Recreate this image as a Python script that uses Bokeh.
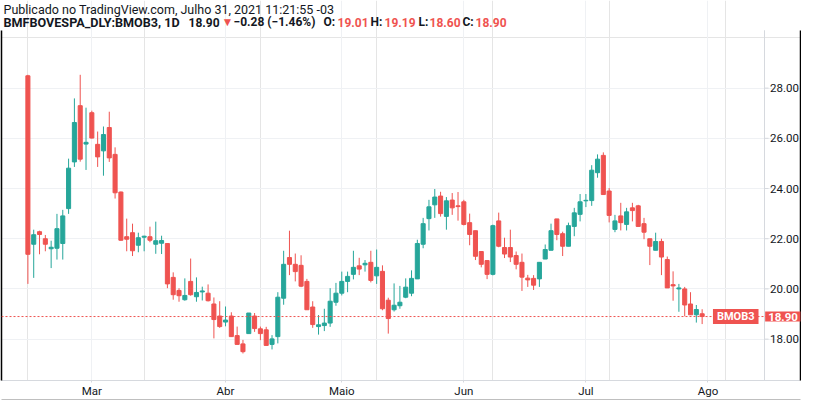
import pandas as pd
from bokeh.plotting import figure
from bokeh.models import (ColumnDataSource, LinearAxis, FixedTicker, Range1d, Span,
                          Label, Grid)
from bokeh.core.properties import value
from bokeh.embed import file_html
from bokeh.resources import INLINE

# ---- data -------------------------------------------------------------
holidays = ["2021-02-15", "2021-02-16", "2021-04-02", "2021-04-21", "2021-06-03", "2021-07-09"]
dates = [d for d in pd.bdate_range("2021-02-10", "2021-07-30") if d.strftime("%Y-%m-%d") not in holidays]

opens = [28.49, 21.78, 22.28, 22.00, 21.60, 21.62, 21.81, 23.20, 25.06, 27.30,
         25.77, 27.02, 25.76, 25.50, 26.43, 25.36, 23.86, 22.08, 22.24, 21.74,
         22.06, 22.08, 21.78, 21.82, 21.81, 20.46, 19.94, 19.57, 20.30, 19.69,
         19.88, 19.83, 19.40, 18.92, 18.68, 18.92, 18.14, 17.81, 18.22, 18.92,
         18.41, 18.37, 17.79, 18.10, 19.63, 21.25, 20.98, 20.94, 20.30, 19.28,
         18.50, 18.54, 18.64, 19.47, 19.83, 20.30, 20.58, 20.92, 20.96, 21.06,
         20.52, 20.70, 19.55, 19.17, 19.33, 19.67, 19.83, 20.40, 21.78, 22.80,
         23.35, 23.70, 22.89, 23.54, 23.31, 23.47, 22.64, 22.32, 21.49, 21.13,
         20.58, 22.71, 21.65, 21.65, 21.33, 21.06, 20.43, 20.42, 20.40, 21.19,
         21.54, 22.79, 22.20, 21.70, 22.49, 22.97, 23.51, 23.52, 24.63, 25.32,
         23.90, 22.37, 22.91, 22.57, 23.23, 23.31, 22.60, 22.00, 21.54, 21.89,
         21.17, 20.17, 20.00, 20.00, 19.40, 18.97, 19.01]
highs = [28.53, 22.36, 22.32, 22.15, 21.92, 22.99, 23.15, 25.19, 27.59, 28.53,
         27.22, 27.10, 26.27, 26.47, 27.06, 25.64, 23.88, 22.80, 22.60, 22.24,
         22.12, 22.48, 22.68, 22.12, 21.82, 20.66, 20.03, 20.42, 21.21, 20.46,
         20.09, 20.18, 19.66, 19.51, 19.30, 19.07, 18.50, 17.97, 19.04, 19.04,
         18.50, 18.49, 18.16, 19.87, 21.52, 22.32, 21.41, 21.34, 20.40, 19.51,
         18.96, 19.21, 20.03, 20.24, 20.69, 20.69, 21.52, 21.24, 21.15, 21.52,
         21.57, 20.94, 19.65, 20.22, 20.12, 20.42, 20.74, 21.96, 22.83, 23.55,
         23.98, 23.87, 23.66, 23.82, 23.86, 23.55, 23.00, 22.32, 21.49, 21.13,
         22.56, 23.04, 22.04, 22.36, 21.49, 21.41, 20.56, 20.55, 21.06, 21.77,
         22.60, 22.79, 22.28, 22.64, 23.23, 23.78, 23.78, 24.93, 25.36, 25.44,
         24.02, 22.95, 23.43, 23.23, 23.43, 23.35, 22.83, 22.00, 22.24, 22.00,
         21.29, 20.70, 20.20, 20.08, 19.87, 19.36, 19.19]
lows = [20.20, 20.44, 21.38, 21.50, 20.83, 21.17, 21.17, 22.99, 24.86, 25.07,
        24.74, 25.99, 24.86, 24.51, 25.06, 23.60, 21.92, 21.50, 21.31, 21.46,
        21.50, 21.86, 21.40, 21.39, 20.03, 19.57, 19.49, 19.53, 19.73, 19.49,
        19.54, 19.50, 18.03, 18.45, 18.51, 18.10, 17.79, 17.43, 18.22, 18.29,
        17.96, 17.75, 17.59, 17.83, 19.37, 20.55, 20.30, 20.07, 19.17, 18.45,
        18.18, 18.32, 18.49, 19.33, 19.74, 19.87, 20.38, 20.55, 20.69, 20.26,
        20.20, 19.15, 18.22, 19.10, 19.21, 19.63, 19.71, 20.40, 21.62, 22.33,
        22.83, 22.88, 22.36, 22.95, 22.72, 22.53, 21.74, 21.15, 20.86, 20.39,
        20.54, 21.66, 21.23, 21.07, 20.78, 19.92, 20.08, 19.96, 20.08, 21.19,
        21.54, 21.94, 21.31, 21.70, 22.10, 22.69, 23.26, 23.31, 24.43, 23.76,
        22.65, 22.26, 22.33, 22.33, 22.69, 22.49, 21.98, 20.95, 21.54, 20.55,
        20.04, 19.53, 19.09, 18.91, 18.97, 18.66, 18.60]
closes = [21.38, 22.16, 22.17, 21.78, 21.66, 22.40, 22.91, 24.81, 26.63, 25.17,
          25.84, 26.01, 25.26, 26.15, 25.22, 23.83, 21.94, 21.98, 21.52, 22.04,
          22.10, 21.94, 21.92, 21.93, 20.20, 19.77, 19.73, 19.74, 19.77, 19.86,
          19.92, 19.53, 18.78, 18.50, 18.76, 18.10, 17.79, 17.50, 19.04, 18.42,
          18.22, 17.75, 18.01, 19.67, 20.98, 20.98, 20.69, 20.11, 19.17, 18.58,
          18.57, 18.64, 19.51, 19.83, 20.30, 20.50, 20.86, 20.79, 21.02, 20.34,
          20.86, 19.21, 18.82, 19.35, 19.47, 20.07, 20.42, 21.81, 22.60, 23.27,
          23.66, 23.00, 23.51, 23.23, 23.28, 22.57, 22.17, 21.30, 20.98, 20.58,
          22.52, 21.70, 21.39, 21.27, 20.98, 20.47, 20.36, 20.15, 21.06, 21.57,
          22.32, 22.17, 21.70, 22.52, 23.03, 23.47, 23.53, 24.73, 25.17, 23.76,
          22.93, 22.71, 22.64, 23.07, 23.12, 22.49, 22.26, 21.70, 21.89, 21.27,
          20.04, 20.12, 20.04, 19.36, 18.97, 19.18, 18.90]

month_names = {3: "Mar", 4: "Abr", 5: "Maio", 6: "Jun", 7: "Jul", 8: "Ago"}
price_ticks = [18, 20, 22, 24, 26, 28]
symbol = "BMOB3"
ticker_name = "BMFBOVESPA_DLY:BMOB3, 1D"
header_line = "Publicado no TradingView.com, Julho 31, 2021 11:21:55 -03"

# ---- derived ----------------------------------------------------------
n = len(closes)
xs = list(range(n))
month_idx, month_lab = [], {}
for i in range(1, n):
    if dates[i].month != dates[i - 1].month:
        month_idx.append(i)
        month_lab[i] = month_names[dates[i].month]
month_idx.append(n)                      # next trading day: August
month_lab[n] = month_names[8]

UP, DOWN = "#26a69a", "#ef5350"
TXT = "#131722"
GRID = "#eff1f4"
SCALE = "#d6d9de"
colors = [UP if c >= o else DOWN for o, c in zip(opens, closes)]
src = ColumnDataSource(dict(
    x=xs, open=opens, high=highs, low=lows, close=closes,
    top=[max(o, c) for o, c in zip(opens, closes)],
    bottom=[min(o, c) for o, c in zip(opens, closes)],
    color=colors))

W, H = 801, 400
BOTTOM = 17
x0, x1 = -4.542, 132.92       # full frame, incl. price-scale area
y0, y1 = 16.352, 31.490       # full frame, incl. header area
px_x = (W - 2) / (x1 - x0)    # pixels per bar
px_y = (H - BOTTOM) / (y1 - y0)   # pixels per price unit
x_scale = 126.73              # price-scale border (data units)
y_pane = y1 - 30 / px_y       # top of chart pane

p = figure(width=W, height=H, output_backend="svg", toolbar_location=None,
           x_range=Range1d(x0, x1), y_range=Range1d(y0, y1),
           x_axis_location=None, y_axis_location=None,
           min_border_left=1, min_border_right=1, min_border_top=0, min_border_bottom=BOTTOM,
           background_fill_color="white", border_fill_color="white")
p.outline_line_color = None

# grids
p.add_layout(Grid(dimension=0, ticker=FixedTicker(ticks=month_idx), grid_line_color=GRID,
                  bounds=(y0, y_pane)))
p.add_layout(Grid(dimension=1, ticker=FixedTicker(ticks=price_ticks), grid_line_color=GRID,
                  bounds=(x0, x_scale)))

# candles
p.segment(x0="x", y0="low", x1="x", y1="high", color="color", line_width=1, source=src)
p.vbar(x="x", width=0.7, top="top", bottom="bottom", fill_color="color",
       line_color="color", line_width=1, source=src)

# last price line
last = closes[-1]
p.add_layout(Span(location=last, dimension="width", line_color=DOWN, line_dash="2 2", line_width=1))

# price scale (right): border line, ticks and labels on the y scale
p.segment(x0=[x_scale], y0=[y0], x1=[x_scale], y1=[y_pane], line_color=SCALE, line_width=1)
tick_src = ColumnDataSource(dict(
    x0=[x_scale] * len(price_ticks), x1=[x_scale + 4 / px_x] * len(price_ticks),
    xl=[x_scale + 5.5 / px_x] * len(price_ticks),
    y=price_ticks, text=[f"{v:.2f}" for v in price_ticks]))
p.segment(x0="x0", y0="y", x1="x1", y1="y", line_color=SCALE, line_width=1, source=tick_src)
p.text(x="xl", y="y", text="text", text_align="left", text_baseline="middle",
       text_color=TXT, text_font=value("Roboto"), text_font_size="11.5px", source=tick_src)

# borders
def border_axis(**kw):
    return LinearAxis(ticker=FixedTicker(ticks=[]), axis_line_color="black", axis_line_width=1.5,
                      major_tick_out=0, major_tick_in=0, minor_tick_out=0, minor_tick_in=0,
                      major_label_text_font_size="0px", **kw)

p.add_layout(border_axis(bounds=(y0, y_pane)), "left")
p.add_layout(border_axis(bounds=(y0, y_pane)), "right")

xax = LinearAxis(ticker=FixedTicker(ticks=month_idx), major_label_overrides=month_lab,
                 axis_line_color=SCALE, major_tick_line_color=SCALE,
                 major_tick_out=2, major_tick_in=0, minor_tick_out=0, minor_tick_in=0,
                 major_label_standoff=1, major_label_text_font="Roboto",
                 major_label_text_font_size="11.5px", major_label_text_color=TXT)
p.add_layout(xax, "below")
p.add_layout(border_axis(), "below")

# price tags
p.add_layout(Label(x=x_scale, y=last, x_offset=-6, text=symbol, text_align="right", text_baseline="middle",
                   text_color="white", text_font="Roboto", text_font_size="11px", text_font_style="bold",
                   background_fill_color=DOWN, padding=(4, 1)))
p.add_layout(Label(x=x_scale, y=last, x_offset=18.5, text=f"{last:.2f}", text_align="center",
                   text_baseline="middle", text_color="white", text_font="Roboto",
                   text_font_size="11.5px", text_font_style="bold",
                   background_fill_color=DOWN, padding=(3, 1)))

# header
p.add_layout(Label(x=2, y=y1 - 9.5 / px_y, x_units="screen", text=header_line, text_align="left",
                   text_baseline="middle", text_color=TXT, text_font="Roboto", text_font_size="12.5px"))

chg = closes[-1] - closes[-2]
pct = chg / closes[-2] * 100
segments = [
    (ticker_name, 3, TXT, "12.6px"),
    (f"{last:.2f}", 188, TXT, "12px"),
    ("\u25bc", 221, DOWN, "12px"),
    (f"\u2212{abs(chg):.2f} (\u2212{abs(pct):.2f}%)", 233, TXT, "12px"),
    ("O:", 323, TXT, "12px"), (f"{opens[-1]:.2f}", 337, DOWN, "12px"),
    ("H:", 370, TXT, "12px"), (f"{highs[-1]:.2f}", 384, DOWN, "12px"),
    ("L:", 418, TXT, "12px"), (f"{lows[-1]:.2f}", 429, DOWN, "12px"),
    ("C:", 462, TXT, "12px"), (f"{closes[-1]:.2f}", 475, DOWN, "12px"),
]
for txt, sx, col, fs in segments:
    p.add_layout(Label(x=sx - 1, y=y1 - 22 / px_y, x_units="screen", text=txt, text_align="left",
                       text_baseline="middle", text_color=col, text_font="Roboto",
                       text_font_size=fs, text_font_style="bold"))

open("out.html", "w").write(file_html(p, INLINE))
